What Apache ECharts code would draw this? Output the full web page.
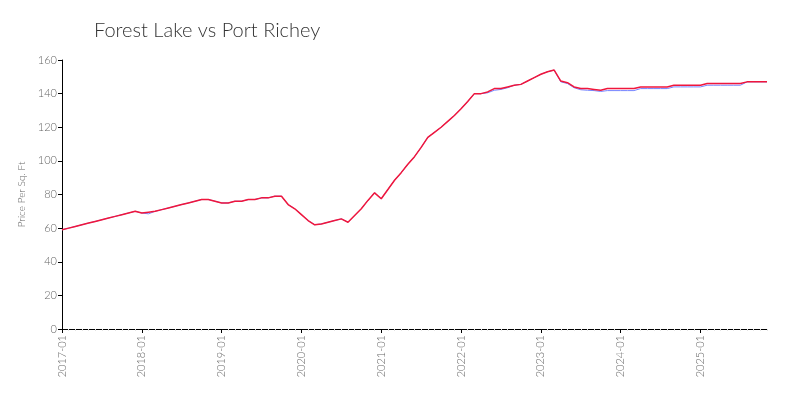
<!DOCTYPE html>
<html><head><meta charset="utf-8">
<script src="https://cdn.jsdelivr.net/npm/echarts@6/dist/echarts.min.js"></script>
<style>html,body{margin:0;padding:0;background:#fff}#c{width:800px;height:400px}</style>
</head><body><div id="c"></div>
<script>
const title = "Forest Lake vs Port Richey";
const yName = "Price Per Sq. Ft";
const startYear = 2017, endYear = 2025, endMonth = 11;
const months = [];
for (let y = startYear; y <= endYear; y++) {
  for (let m = 1; m <= 12; m++) {
    if (y === endYear && m > endMonth) break;
    months.push(y + "-" + String(m).padStart(2, "0"));
  }
}
const portRichey = [
  59,60,61,62,63,64,65,66,67,68,69,70,
  69,69.5,70,71,72,73,74,75,76,77,77,76,
  75,75,76,76,77,77,78,78,79,79,74,71.5,
  68,64.5,62,62.5,63.5,64.5,65.5,63.5,67.5,71.5,76.5,81,
  77.5,83,88.5,93,98,102.5,108,114,117,120,123.5,127,
  131,135.3,140,140,141,143,143,144,145,145.5,147.5,149.5,
  151.5,153,154,147.5,146.5,144,143,143,142.5,142,143,143,
  143,143,143,144,144,144,144,144,145,145,145,145,
  145,146,146,146,146,146,146,147,147,147,147
];
const forestLake = [
  59,60,61,62,63,64,65,66,67,68,69,70,
  69,68.5,70,71,72,73,74,75,76,77,77,76,
  75,75,76,76,77,77,78,78,79,79,74,71.5,
  68,64.5,62,62.5,63.5,64.5,65.5,63.5,67.5,71.5,76.5,81,
  77.5,83,88.5,93,98,102.5,108,114,117,120,123.5,127,
  131,135.3,140,140,140.5,142,142.5,143.5,145,145.5,147.5,149.5,
  151.5,153,154,147,146,143.5,142.3,142,141.8,141.3,141.8,141.8,
  141.8,141.8,141.8,143,143,143,143,143,144,144,144,144,
  144,145,145,145,145,145,145,147,147,147,147
];
const font = "Lato";
const chart = echarts.init(document.getElementById("c"));
chart.setOption({
  animation: false,
  title: { text: title, left: 89, top: 16, textStyle: { fontFamily: font, fontWeight: 300, fontSize: 20, color: "#333" } },
  grid: { left: 62, right: 33, top: 60, bottom: 71 },
  xAxis: [{
    type: "category", data: months, boundaryGap: false,
    axisLine: { show: false },
    axisTick: { interval: 0, length: 2, lineStyle: { color: "#e2e2e2", width: 1 } },
    axisLabel: { show: false },
    splitLine: { show: false }
  }, {
    type: "category", data: months, boundaryGap: false, position: "bottom",
    axisLine: { lineStyle: { color: "#000", width: 1 } },
    axisTick: { show: true, interval: function (i) { return i % 12 === 0; }, length: 4, lineStyle: { color: "#000" } },
    axisLabel: { interval: function (i) { return i % 12 === 0; }, rotate: 90, fontFamily: font, fontWeight: 300, fontSize: 11, color: "#666", margin: 6 },
    splitLine: { show: false }
  }],
  yAxis: {
    type: "value", min: 0, max: 160, interval: 20,
    name: yName, nameLocation: "middle", nameGap: 27,
    nameTextStyle: { fontFamily: font, fontWeight: 300, fontSize: 10, color: "#666" },
    axisLine: { show: true, lineStyle: { color: "#000" } },
    axisTick: { show: true, length: 4, lineStyle: { color: "#000" } },
    axisLabel: { fontFamily: font, fontWeight: 300, fontSize: 11, color: "#666", margin: 5 },
    splitLine: { show: false }
  },
  series: [
    { name: "Forest Lake", type: "line", xAxisIndex: 1, data: forestLake, showSymbol: false, lineStyle: { color: "#7585ff", width: 1 }, itemStyle: { color: "#7585ff" } },
    { name: "Port Richey", type: "line", xAxisIndex: 1, data: portRichey, showSymbol: false, lineStyle: { color: "#f0163c", width: 1.5 }, itemStyle: { color: "#f0163c" } }
  ]
});
</script></body></html>
